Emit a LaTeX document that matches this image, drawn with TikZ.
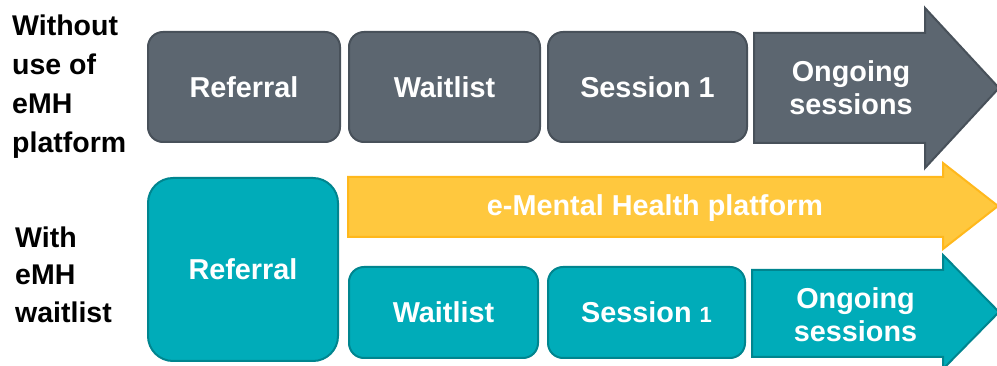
\documentclass[tikz,border=0pt]{standalone}
\usepackage{fontspec}
\setmainfont{Liberation Sans}
\definecolor{grayfill}{HTML}{5C6670}
\definecolor{grayline}{HTML}{48515A}
\definecolor{tealfill}{HTML}{00ACB9}
\definecolor{tealline}{HTML}{00858F}
\definecolor{yelfill}{HTML}{FFC83E}
\definecolor{yelline}{HTML}{FFB81C}
\begin{document}
\begin{tikzpicture}[x=1pt,y=-1pt,
  boxtext/.style={text=white,font=\bfseries\fontsize{28.8}{33}\selectfont,align=center,inner sep=0pt},
  labeltext/.style={text=black,font=\bfseries\fontsize{28.5}{39}\selectfont,align=left,inner sep=0pt,anchor=north west},
  graybox/.style={boxtext,rounded corners=15pt,fill=grayfill,draw=grayline,line width=2pt},
  tealbox/.style={boxtext,rounded corners=15pt,fill=tealfill,draw=tealline,line width=2pt},
  grayarrow/.style={fill=grayfill,draw=grayline,line width=2pt,line join=miter},
  tealarrow/.style={fill=tealfill,draw=tealline,line width=2pt,line join=miter},
  yelarrow/.style={fill=yelfill,draw=yelline,line width=2pt,line join=miter}]
\useasboundingbox (0,0) rectangle (997,366);
\fill[white] (0,0) rectangle (997,366);

% labels
\node[labeltext] (lab1) at (12,14.5) {Without\\use of\\eMH\\platform};
\node[labeltext,font=\bfseries\fontsize{28.5}{37.5}\selectfont] (lab2) at (15,226.5) {With\\eMH\\waitlist};

% top row
\node[graybox,minimum width=192pt,minimum height=110pt] (r1) at (244,87) {Referral};
\node[graybox,minimum width=191pt,minimum height=110pt] (w1) at (444.5,87) {Waitlist};
\node[graybox,minimum width=199pt,minimum height=110pt] (s1) at (647.5,87) {Session 1};
\draw[grayarrow] (754,33) -- (925,33) -- (925,8) -- (999,88) -- (925,168) -- (925,143) -- (754,143) -- cycle;
\node[boxtext] (o1) at (851,88) {Ongoing\\sessions};

% bottom
\node[tealbox,rounded corners=25pt,minimum width=190pt,minimum height=183pt] (r2) at (243,269.5) {Referral};
\draw[yelarrow] (348,177) -- (943,177) -- (943,163) -- (998,206) -- (943,249) -- (943,237) -- (348,237) -- cycle;
\node[boxtext,anchor=base] (emh) at (655,216) {e-Mental Health platform};
\node[tealbox,minimum width=189pt,minimum height=91pt] (w2) at (443.5,312.5) {Waitlist};
\node[tealbox,minimum width=197pt,minimum height=91pt] (s2) at (646.5,312.5) {Session {\fontsize{22}{22}\selectfont 1}};
\draw[tealarrow] (752,270) -- (943,270) -- (943,255) -- (999,312) -- (943,369) -- (943,357) -- (752,357) -- cycle;
\node[boxtext] (o2) at (855.5,315) {Ongoing\\sessions};
\end{tikzpicture}
\end{document}
